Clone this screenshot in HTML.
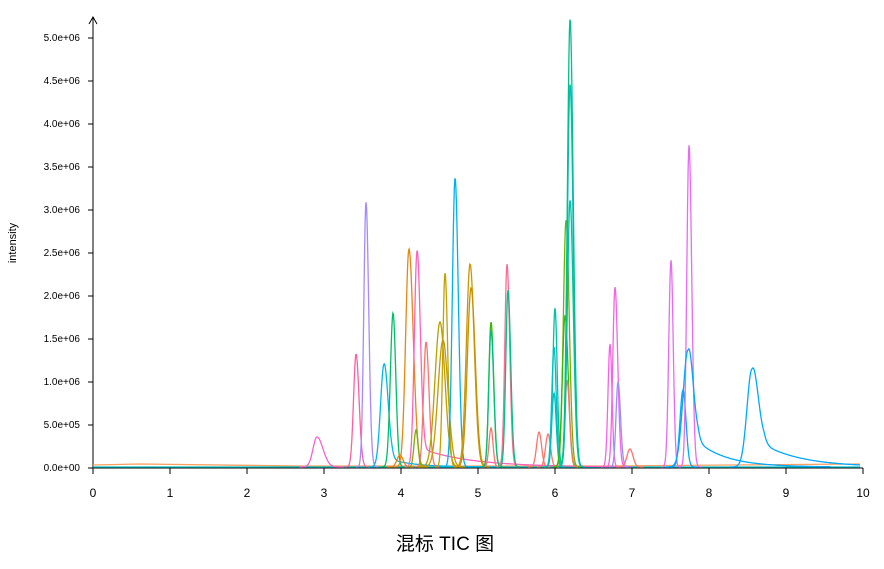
<!DOCTYPE html>
<html><head><meta charset="utf-8"><style>
body{margin:0;background:#fff;width:884px;height:564px;overflow:hidden}
svg text{font-family:"Liberation Sans",sans-serif;fill:#000}
</style></head><body>
<svg id="s" width="884" height="564" xmlns="http://www.w3.org/2000/svg">
<line x1="93" y1="18" x2="93" y2="468" stroke="#000" stroke-width="1"/>
<path d="M89,24 L93,17 L97,24" fill="none" stroke="#000"/>
<line x1="93" y1="468" x2="863" y2="468" stroke="#000"/>
<g font-size="10" text-anchor="end">
<text x="80" y="471">0.0e+00</text><text x="80" y="428">5.0e+05</text><text x="80" y="385">1.0e+06</text>
<text x="80" y="342">1.5e+06</text><text x="80" y="299">2.0e+06</text><text x="80" y="256">2.5e+06</text>
<text x="80" y="213">3.0e+06</text><text x="80" y="170">3.5e+06</text><text x="80" y="127">4.0e+06</text>
<text x="80" y="84">4.5e+06</text><text x="80" y="41">5.0e+06</text>
</g>
<g id="yt" stroke="#000"></g>
<g id="xt" stroke="#000"></g>
<g id="xl" font-size="12" text-anchor="middle"></g>
<text x="16" y="243" font-size="11" text-anchor="middle" transform="rotate(-90 16 243)">intensity</text>
<text x="445" y="550" font-size="19" text-anchor="middle" style="font-family:'Liberation Sans','Noto Sans CJK SC',sans-serif">混标  TIC 图</text>
<g id="lines" fill="none" stroke-width="1.3"></g>
</svg>
<script>
var NS="http://www.w3.org/2000/svg";
function el(p,t,a,txt){var e=document.createElementNS(NS,t);for(var k in a)e.setAttribute(k,a[k]);if(txt!=null)e.textContent=txt;document.getElementById(p).appendChild(e);}
for(var i=0;i<=10;i++){var y=468-43*i;el("yt","line",{x1:88,y1:y,x2:93,y2:y});}
for(var i=0;i<=10;i++){var x=93+77*i;el("xt","line",{x1:x,y1:468,x2:x,y2:474});el("xl","text",{x:x,y:497},String(i));}
var P=[
[317,437,4,6,"#f365d0",0,0],
[356,354,2.5,3,"#fb61a0",0,0],
[366,202,2.2,2.7,"#a58aff",0,0],
[384,364,3.5,4,"#00b8e7",10,25],
[393,313,2.7,2.7,"#00be67",0,0],
[400,455,3,3,"#e68613",0,0],
[409,249,3.3,4.3,"#e68613",0,0],
[417,251,2.7,3.2,"#ff62bc",20,50],
[426,342,2.5,3,"#f8766d",0,0],
[416,430,2,2,"#7cae00",0,0],
[440,322,5,5,"#b79f00",0,0],
[443,340,5,5,"#c49a00",0,0],
[445,273,2.2,2.7,"#c4a000",0,0],
[455,178,2.7,3.2,"#00b0f6",0,0],
[470,264,3.7,4.2,"#cd9600",0,0],
[471,288,3.7,4.2,"#c89000",0,0],
[491,428,2,2,"#f8766d",0,0],
[491,322,2.2,2.7,"#39b600",0,0],
[491,330,2.2,2.7,"#00bf7d",0,0],
[507,264,2.2,2.7,"#ff6c91",0,0],
[508,290,2.2,2.7,"#00c08b",0,0],
[539,432,2.5,2.5,"#f8766d",0,0],
[548,434,2.5,2.5,"#f8766d",0,0],
[555,308,2.2,2.2,"#00c1a3",0,0],
[554,347,2.2,2.2,"#00bfc4",0,0],
[554,393,2.2,2.2,"#00bfc4",0,0],
[566,220,2.7,3.2,"#7cae00",0,0],
[565,316,2.7,3.2,"#39b600",0,0],
[567,380,2,2.5,"#f8766d",0,0],
[570,200,2.7,3.2,"#00c1a3",0,0],
[570,84,2.7,3.2,"#00bfc4",0,0],
[570,19,2.7,3.2,"#00c08b",0,0],
[610,344,2,2,"#f564e3",0,0],
[615,287,2.2,2.7,"#f564e3",0,0],
[618,382,2,2.5,"#9590ff",0,0],
[630,449,3,3,"#f8766d",0,0],
[671,260,2.2,2.2,"#e76bf3",0,0],
[683,390,3,3,"#00a9ff",0,0],
[689,145,2.2,2.7,"#e76bf3",0,0],
[688,350,5,5,"#00a9ff",35,30],
[752,369,5,6,"#00a9ff",30,40]
];
function addPath(d,c){el("lines","path",{d:d,stroke:c});}
addPath("M93,465 L140,464 L300,466 L600,466 L860,464","#f8a060");
addPath("M93,467 L860,467","#00bfc4");
P.forEach(function(p){
 var c=p[0],top=p[1],sl=p[2],sr=p[3],h=467-top,d="";
 var x0=c-sl*4.5,x1=Math.min(860,c+sr*4.5+(p[5]?p[6]*4:0));
 for(var x=x0;x<=x1;x+=0.5){
  var s=x<c?sl:sr,v=h*Math.exp(-Math.pow(x-c,2)/(2*s*s));
  if(p[5]&&x>c)v+=p[5]*Math.exp(-(x-c)/p[6])*Math.min(1,(x-c)/(2*sr));
  d+=(d?"L":"M")+x.toFixed(1)+","+(467-v).toFixed(1);
 }
 addPath(d,p[4]);
});
</script>
</body></html>
